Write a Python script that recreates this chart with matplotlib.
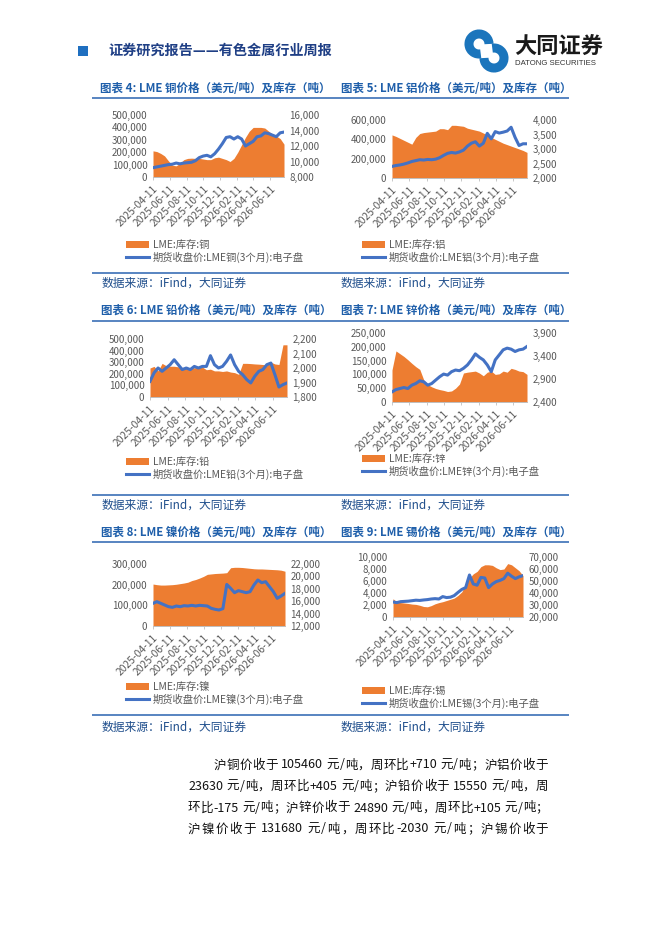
import re
import matplotlib
matplotlib.use('Agg')
import matplotlib.pyplot as plt
import matplotlib.dates as mdates
import pandas as pd
from matplotlib.patches import Rectangle, Arc, Patch
from matplotlib.lines import Line2D
from matplotlib.ticker import FuncFormatter, FixedLocator

plt.rcParams['font.family'] = ['Noto Sans CJK SC', 'DejaVu Sans']

W, H = 662, 936

# ---------------- data ----------------
dates = ['2025-04-11', '2025-04-25', '2025-05-09', '2025-05-23', '2025-06-06', '2025-06-20',
         '2025-07-04', '2025-07-18', '2025-08-01', '2025-08-15', '2025-08-29', '2025-09-12',
         '2025-09-26', '2025-10-10', '2025-10-24', '2025-11-07', '2025-11-21', '2025-12-05',
         '2025-12-19', '2026-01-02', '2026-01-16', '2026-01-30', '2026-02-13', '2026-02-27',
         '2026-03-13', '2026-03-27', '2026-04-10', '2026-04-24', '2026-05-08', '2026-05-22',
         '2026-06-05', '2026-06-19', '2026-07-03', '2026-07-17', '2026-07-31']
tick_dates = ['2025-04-11', '2025-06-11', '2025-08-11', '2025-10-11', '2025-12-11',
              '2026-02-11', '2026-04-11', '2026-06-11']

# inventories in tonnes (thousands listed), prices in USD/t
cu_inv = [211, 205, 190, 170, 130, 95, 90, 110, 140, 150, 152, 150, 150, 145, 140, 140, 155, 160,
          150, 140, 125, 150, 200, 260, 320, 370, 400, 400, 400, 395, 370, 345, 330, 310, 265]
cu_price = [9200, 9300, 9400, 9500, 9600, 9650, 9800, 9700, 9800, 9850, 9900, 10100, 10500, 10700,
            10800, 10600, 11000, 11600, 12300, 13100, 13200, 12900, 13200, 12900, 12000, 12300,
            12600, 13200, 13300, 13700, 13600, 13400, 13200, 13700, 13800]

al_inv = [446, 430, 410, 390, 370, 350, 420, 460, 470, 475, 480, 485, 510, 510, 500, 545, 545, 540,
          535, 515, 505, 495, 485, 465, 445, 420, 400, 380, 360, 345, 330, 315, 300, 285, 265]
al_price = [2400, 2430, 2450, 2480, 2520, 2570, 2600, 2630, 2620, 2640, 2630, 2650, 2700, 2780,
            2850, 2880, 2860, 2900, 2960, 3100, 3200, 3250, 3100, 3200, 3540, 3350, 3600, 3550,
            3580, 3620, 3750, 3400, 3120, 3180, 3180]

pb_inv = [250, 264, 225, 290, 270, 265, 265, 260, 255, 255, 250, 252, 255, 258, 235, 240, 225, 225,
          220, 225, 215, 210, 195, 290, 290, 288, 285, 283, 280, 275, 300, 285, 280, 450, 450]
pb_price = [1908, 1966, 2000, 1977, 2000, 2023, 2057, 2023, 1989, 2000, 1989, 2011, 2000, 2011,
            2011, 2085, 2023, 2000, 2011, 2046, 2090, 2023, 1977, 1954, 1920, 1897, 1943, 1977,
            1989, 2023, 2034, 1954, 1869, 1885, 1897]

zn_inv = [116, 185, 175, 165, 153, 140, 128, 118, 80, 63, 55, 49, 45, 42, 38, 40, 50, 65, 105, 108,
          110, 112, 105, 95, 108, 112, 100, 102, 112, 108, 122, 118, 112, 110, 100]
zn_price = [2620, 2670, 2693, 2715, 2693, 2766, 2802, 2861, 2839, 2766, 2802, 2876, 2949, 3007,
            2985, 3059, 3095, 3080, 3132, 3205, 3315, 3446, 3373, 3315, 3205, 3059, 3315, 3424,
            3534, 3571, 3549, 3498, 3534, 3549, 3607]

ni_inv = [203, 200, 198, 198, 199, 200, 202, 205, 208, 212, 220, 225, 232, 240, 250, 252, 254, 255,
          256, 258, 282, 284, 284, 283, 281, 279, 277, 276, 276, 275, 274, 273, 272, 270, 265]
ni_price = [15656, 15924, 15656, 15387, 15118, 15011, 15226, 15118, 15280, 15226, 15333, 15226,
            15333, 15280, 15226, 14850, 14688, 14580, 14800, 18700, 18075, 17376, 17698, 17537,
            17376, 17537, 18612, 19419, 18989, 19150, 18344, 17537, 16462, 16838, 17268]

sn_inv = [3050, 2500, 2400, 2330, 2250, 2150, 2100, 1950, 1750, 1700, 1900, 2200, 2400, 2550, 2750,
          2950, 3150, 3600, 4200, 5500, 6500, 7200, 7600, 8400, 8700, 8700, 8600, 8200, 7900, 8000,
          8900, 8700, 8200, 7700, 6900]
sn_price = [32500, 32000, 32800, 33000, 33200, 33600, 34000, 33800, 34200, 34500, 35000, 35300,
            35000, 37000, 36200, 36500, 37800, 40500, 43000, 44500, 55000, 47500, 46500, 53000,
            52500, 44500, 47500, 49500, 50500, 52000, 56500, 54000, 52000, 53500, 54500]

titles = ['图表 4: LME 铜价格（美元/吨）及库存（吨）', '图表 5: LME 铝价格（美元/吨）及库存（吨）',
          '图表 6: LME 铅价格（美元/吨）及库存（吨）', '图表 7: LME 锌价格（美元/吨）及库存（吨）',
          '图表 8: LME 镍价格（美元/吨）及库存（吨）', '图表 9: LME 锡价格（美元/吨）及库存（吨）']
inv_labels = ['LME:库存:铜', 'LME:库存:铝', 'LME:库存:铅', 'LME:库存:锌', 'LME:库存:镍', 'LME:库存:锡']
price_labels = ['期货收盘价:LME铜(3个月):电子盘', '期货收盘价:LME铝(3个月):电子盘',
                '期货收盘价:LME铅(3个月):电子盘', '期货收盘价:LME锌(3个月):电子盘',
                '期货收盘价:LME镍(3个月):电子盘', '期货收盘价:LME锡(3个月):电子盘']
source_text = '数据来源：iFind，大同证券'
header_title = '证券研究报告——有色金属行业周报'
para_lines = ['沪铜价收于 105460 元/吨，周环比+710 元/吨；沪铝价收于',
              '23630 元/吨，周环比+405 元/吨；沪铅价收于 15550 元/吨，周',
              '环比-175 元/吨；沪锌价收于 24890 元/吨，周环比+105 元/吨；',
              '沪镍价收于 131680 元/吨，周环比-2030 元/吨；沪锡价收于']

ORANGE = '#ED7D31'
BLUE = '#4472C4'
TBLUE = '#1F5FAA'
GRAY = '#595959'

fig = plt.figure(figsize=(W / 100, H / 100), dpi=100)
bg = fig.add_axes([0, 0, 1, 1])
bg.set_xlim(0, W)
bg.set_ylim(H, 0)
bg.axis('off')

# ---------------- header ----------------
bg.add_patch(Rectangle((78, 46), 10, 10, color='#1F6FC0', lw=0))
bg.text(108, 51, header_title, fontsize=10.2, fontweight='bold', color='#1F3F85',
        va='center', ha='left')
bg.add_patch(Arc((479, 44), 20, 20, theta1=80, theta2=360, lw=6.5, color='#1B75BC'))
bg.add_patch(Arc((494, 58), 20, 20, theta1=260, theta2=180, lw=6.5, color='#1B75BC'))
bg.text(514, 47, '大同证券', fontsize=16, fontweight='bold', color='#1A1A1A', va='center', ha='left')
bg.text(515, 63.5, 'DATONG SECURITIES', fontsize=5.6, color='#333333', va='center', ha='left',
        family=['Liberation Sans', 'DejaVu Sans'])

# separator lines
for yl in [98, 320.5, 541.5, 273, 495, 715]:
    bg.plot([92, 569], [yl, yl], color='#2A63B0', lw=1.1, solid_capstyle='butt')

# ---------------- charts ----------------
charts = [
    dict(inv=[v * 1000 for v in cu_inv], price=cu_price, l=(0, 500000, 100000), r=(8000, 16000, 2000),
         rect=(153, 115, 284, 177), leg=(126, 240), title=(100, 88), src=(102, 283)),
    dict(inv=[v * 1000 for v in al_inv], price=al_price, l=(0, 600000, 200000), r=(2000, 4000, 500),
         rect=(392, 120, 527, 178), leg=(362, 240), title=(341, 88), src=(341, 283)),
    dict(inv=[v * 1000 for v in pb_inv], price=pb_price, l=(0, 500000, 100000), r=(1800, 2200, 100),
         rect=(150, 339, 287, 397), leg=(126, 457), title=(101, 310), src=(102, 505)),
    dict(inv=[v * 1000 for v in zn_inv], price=zn_price, l=(0, 250000, 50000), r=(2400, 3900, 500),
         rect=(392, 333, 527, 402), leg=(362, 454), title=(341, 310), src=(341, 505)),
    dict(inv=[v * 1000 for v in ni_inv], price=ni_price, l=(0, 300000, 100000), r=(12000, 22000, 2000),
         rect=(153, 564, 285, 626), leg=(126, 682), title=(101, 532), src=(102, 727)),
    dict(inv=sn_inv, price=sn_price, l=(0, 10000, 2000), r=(20000, 70000, 10000),
         rect=(393, 557, 523, 617), leg=(362, 686), title=(341, 532), src=(341, 727)),
]

xd = pd.to_datetime(dates)
xt = pd.to_datetime(tick_dates)
fmt = FuncFormatter(lambda v, p: f'{v:,.0f}')


def ticks_of(lo, hi, st):
    out = []
    v = lo
    while v <= hi + 1e-9:
        out.append(v)
        v += st
    return out


for k, c in enumerate(charts):
    x0, y0, x1, y1 = c['rect']
    ax = fig.add_axes([x0 / W, 1 - y1 / H, (x1 - x0) / W, (y1 - y0) / H])
    ax.fill_between(xd, 0, c['inv'], color=ORANGE, lw=0)
    ax.set_ylim(c['l'][0], c['l'][1])
    ax.yaxis.set_major_locator(FixedLocator(ticks_of(*c['l'])))
    ax.yaxis.set_major_formatter(fmt)
    ax.set_xlim(xd[0], xd[-1])
    ax.set_xticks(xt)
    ax.xaxis.set_major_formatter(mdates.DateFormatter('%Y-%m-%d'))
    for lab in ax.get_xticklabels():
        lab.set_rotation(45)
        lab.set_ha('right')
        lab.set_va('top')
        lab.set_rotation_mode('anchor')
    ax.tick_params(axis='x', labelsize=7.4, colors=GRAY, length=2.5, width=0.6, pad=2,
                   color='#BFBFBF')
    ax.tick_params(axis='y', labelsize=7, colors=GRAY, length=0, pad=4)
    for s in ['top', 'left', 'right']:
        ax.spines[s].set_visible(False)
    ax.spines['bottom'].set_color('#BFBFBF')
    ax.spines['bottom'].set_linewidth(0.7)
    ax.patch.set_alpha(0)

    ax2 = ax.twinx()
    ax2.plot(xd, c['price'], color=BLUE, lw=2.2)
    ax2.set_ylim(c['r'][0], c['r'][1])
    ax2.yaxis.set_major_locator(FixedLocator(ticks_of(*c['r'])))
    ax2.yaxis.set_major_formatter(fmt)
    ax2.tick_params(axis='y', labelsize=7, colors=GRAY, length=0, pad=4)
    for s in ['top', 'left', 'right', 'bottom']:
        ax2.spines[s].set_visible(False)

    lx, ly = c['leg']
    handles = [Patch(facecolor=ORANGE, edgecolor='none'), Line2D([], [], color=BLUE, lw=2.2)]
    fig.legend(handles, [inv_labels[k], price_labels[k]], loc='upper left',
               bbox_to_anchor=(lx / W, 1 - ly / H), frameon=False, fontsize=7.4,
               labelcolor=GRAY, handlelength=2.2, handleheight=0.6, handletextpad=0.4,
               labelspacing=0.15, borderpad=0, borderaxespad=0)

    tx, ty = c['title']
    bg.text(tx, ty, titles[k], fontsize=8.3, fontweight='bold', color=TBLUE, va='center', ha='left')
    sx, sy = c['src']
    bg.text(sx, sy, source_text, fontsize=8.5, color='#1F4E8C', va='center', ha='left')

# ---------------- paragraph (justified) ----------------
renderer = fig.canvas.get_renderer()
para_pos = [(214, 765), (188, 786.5), (188, 808), (188, 829)]
RIGHT = 548
for (px, py), t in zip(para_pos, para_lines):
    toks = re.findall(r'[0-9+\-]+|.', t)
    objs = [bg.text(0, py, tk, fontsize=9, color='#111111', va='center', ha='left') for tk in toks]
    widths = [o.get_window_extent(renderer).width for o in objs]
    extra = (RIGHT - px - sum(widths)) / (len(objs) - 1)
    xcur = px
    for o, w in zip(objs, widths):
        o.set_x(xcur)
        xcur += w + extra

fig.savefig('out.png', dpi=100)
